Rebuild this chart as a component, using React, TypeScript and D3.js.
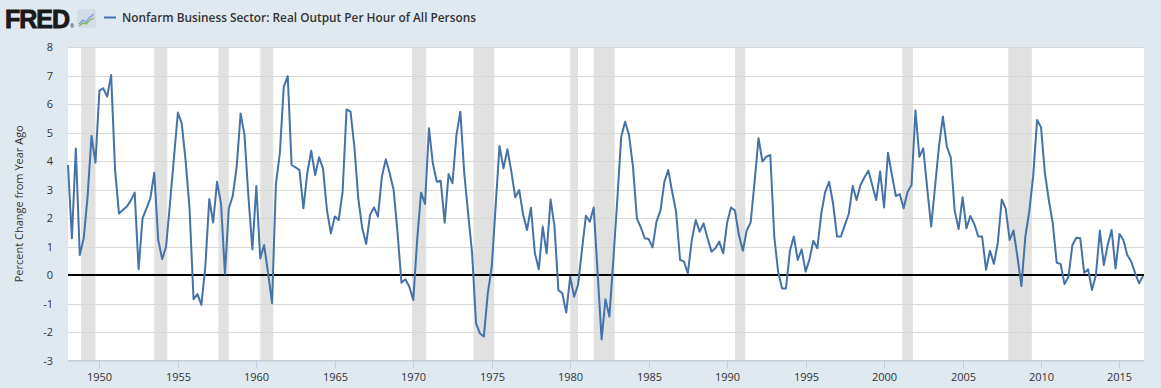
import React from "react";
import * as d3 from "d3";

const START_YEAR = 1948;
const values: number[] = [
  3.86, 1.29, 4.44, 0.70, 1.29, 2.75, 4.88, 3.94, 6.47, 6.55, 6.26, 7.02, 3.68, 2.16, 2.28, 2.40,
  2.61, 2.89, 0.20, 1.99, 2.34, 2.69, 3.59, 1.23, 0.56, 0.99, 2.5, 4.1, 5.70, 5.32, 4.0, 2.3,
  -0.85, -0.67, -1.05, 0.29, 2.67, 1.84, 3.27, 2.51, 0.04, 2.34, 2.77, 3.80, 5.67, 4.91, 2.75, 0.90,
  3.12, 0.58, 1.05, 0.06, -0.99, 3.19, 4.27, 6.61, 6.98, 3.86, 3.78, 3.68, 2.34, 3.57, 4.36, 3.51,
  4.13, 3.74, 2.28, 1.46, 2.05, 1.93, 2.92, 5.81, 5.73, 4.50, 2.69, 1.64, 1.09, 2.11, 2.37, 2.05,
  3.45, 4.06, 3.57, 2.98, 1.46, -0.27, -0.15, -0.41, -0.88, 1.23, 2.89, 2.49, 5.15, 3.92, 3.27, 3.31,
  1.84, 3.54, 3.22, 4.91, 5.73, 3.57, 2.16, 0.76, -1.70, -2.05, -2.16, -0.64, 0.29, 2.40, 4.53, 3.74,
  4.41, 3.63, 2.73, 2.98, 2.11, 1.58, 2.36, 0.76, 0.20, 1.70, 0.76, 2.65, 1.70, -0.53, -0.64, -1.32,
  -0.06, -0.76, -0.35, 0.88, 2.08, 1.87, 2.37, 0.06, -2.26, -0.85, -1.46, 0.53, 2.63, 4.83, 5.38, 4.91,
  3.80, 1.99, 1.67, 1.29, 1.26, 0.97, 1.87, 2.26, 3.27, 3.68, 2.92, 2.22, 0.53, 0.47, 0.06, 1.23,
  1.93, 1.52, 1.81, 1.29, 0.82, 0.94, 1.17, 0.76, 1.84, 2.37, 2.26, 1.40, 0.85, 1.56, 1.84, 3.27,
  4.80, 3.98, 4.15, 4.21, 1.35, 0.12, -0.47, -0.47, 0.85, 1.35, 0.53, 0.90, 0.12, 0.55, 1.20, 0.94,
  2.16, 2.92, 3.27, 2.51, 1.35, 1.35, 1.75, 2.14, 3.12, 2.63, 3.16, 3.43, 3.66, 3.16, 2.63, 3.63,
  2.37, 4.29, 3.51, 2.77, 2.84, 2.34, 2.92, 3.16, 5.77, 4.15, 4.44, 3.04, 1.70, 3.10, 4.50, 5.56,
  4.50, 4.13, 2.26, 1.61, 2.73, 1.64, 2.07, 1.79, 1.35, 1.35, 0.18, 0.85, 0.39, 1.13, 2.65, 2.34,
  1.23, 1.56, 0.64, -0.39, 1.35, 2.22, 3.45, 5.44, 5.18, 3.57, 2.63, 1.81, 0.43, 0.39, -0.32, -0.06,
  1.05, 1.31, 1.29, 0.08, 0.20, -0.53, 0.00, 1.56, 0.35, 1.05, 1.58, 0.23, 1.44, 1.23, 0.70, 0.47,
  0.06, -0.29, -0.04
];

const recessions: [string, string][] = [
  ["1948-11-01", "1949-10-01"],
  ["1953-07-01", "1954-05-01"],
  ["1957-08-01", "1958-04-01"],
  ["1960-04-01", "1961-02-01"],
  ["1969-12-01", "1970-11-01"],
  ["1973-11-01", "1975-03-01"],
  ["1980-01-01", "1980-07-01"],
  ["1981-07-01", "1982-11-01"],
  ["1990-07-01", "1991-03-01"],
  ["2001-03-01", "2001-11-01"],
  ["2007-12-01", "2009-06-01"],
];

const yTicks = [-3, -2, -1, 0, 1, 2, 3, 4, 5, 6, 7, 8];
const xTickYears = [1950, 1955, 1960, 1965, 1970, 1975, 1980, 1985, 1990, 1995, 2000, 2005, 2010, 2015];
const title = "Nonfarm Business Sector: Real Output Per Hour of All Persons";
const yLabel = "Percent Change from Year Ago";

const W = 1161, H = 388;
const L = 68, R = 1144, T = 47, B = 360.5;

export default function App() {
  const data = values.map((v, i) => ({
    date: new Date(START_YEAR + Math.floor(i / 4), (i % 4) * 3, 1),
    v,
  }));
  const x = d3.scaleTime()
    .domain([new Date(1948, 0, 1), new Date(2016, 6, 1)])
    .range([L, R - 1]);
  const y = d3.scaleLinear().domain([-3, 8]).range([B, T]);
  const line = d3.line<{ date: Date; v: number }>()
    .x(d => x(d.date))
    .y(d => y(d.v));
  const font = "'Open Sans', 'DejaVu Sans', sans-serif";

  return (
    <svg width={W} height={H} style={{ position: "absolute", left: 0, top: 0, background: "#e1e9f0" }} fontFamily={font}>
      <rect x={0} y={0} width={W} height={H} fill="#e1e9f0" />
      {/* FRED logo */}
      <text x={5} y={28} fontFamily="'Liberation Sans', Arial, sans-serif" fontWeight="bold" fontSize={25} fill="#1a1a1a" stroke="#1a1a1a" strokeWidth={0.9} letterSpacing={-1}>FRED</text>
      <text x={70} y={28} fontSize={5} fill="#222">®</text>
      <g transform="translate(77,9)">
        <rect x={0} y={0} width={19} height={19} rx={2} fill="#d4dde6" />
        <path d="M2,15 L6,11 L9,13 L13,8 L17,5" stroke="#6b9bcf" strokeWidth={1.2} fill="none" />
        <path d="M2,17 L6,14 L9,15 L13,11 L17,9" stroke="#7fb05a" strokeWidth={1.2} fill="none" />
      </g>
      {/* legend */}
      <line x1={104} x2={116} y1={17.5} y2={17.5} stroke="#4572a7" strokeWidth={2} />
      <text x={122} y={22} fontSize={13} fontWeight={600} fill="#333" textLength={354} lengthAdjust="spacingAndGlyphs">{title}</text>

      {/* plot area */}
      <rect x={L} y={T} width={R - L} height={B - T} fill="#ffffff" />
      {recessions.map(([a, b], i) => (
        <rect key={i} x={x(new Date(a))} y={T} width={x(new Date(b)) - x(new Date(a))} height={B - T} fill="#e1e1e1" />
      ))}
      {yTicks.map(t => (
        <line key={t} x1={L} x2={R} y1={Math.round(y(t)) + 0.5} y2={Math.round(y(t)) + 0.5} stroke="#d8d8d8" strokeWidth={1} />
      ))}
      <line x1={L} x2={R} y1={B} y2={B} stroke="#c0d0e0" strokeWidth={1} />
      {xTickYears.map(yr => {
        const xx = Math.round(x(new Date(yr, 0, 1))) + 0.5;
        return (
          <g key={yr}>
            <line x1={xx} x2={xx} y1={B} y2={B + 8} stroke="#c0d0e0" strokeWidth={1} />
            <text x={xx} y={381} textAnchor="middle" fontSize={11} fill="#333">{yr}</text>
          </g>
        );
      })}
      {yTicks.map(t => (
        <text key={t} x={53} y={y(t) + 4} textAnchor="end" fontSize={11} fill="#333">{t}</text>
      ))}
      <text transform={`translate(23,${(T + B) / 2}) rotate(-90)`} textAnchor="middle" fontSize={11} fill="#333">{yLabel}</text>

      <line x1={L} x2={R} y1={y(0)} y2={y(0)} stroke="#000" strokeWidth={2} />
      <path d={line(data) || ""} fill="none" stroke="#4572a7" strokeWidth={2} strokeLinejoin="round" />
    </svg>
  );
}
